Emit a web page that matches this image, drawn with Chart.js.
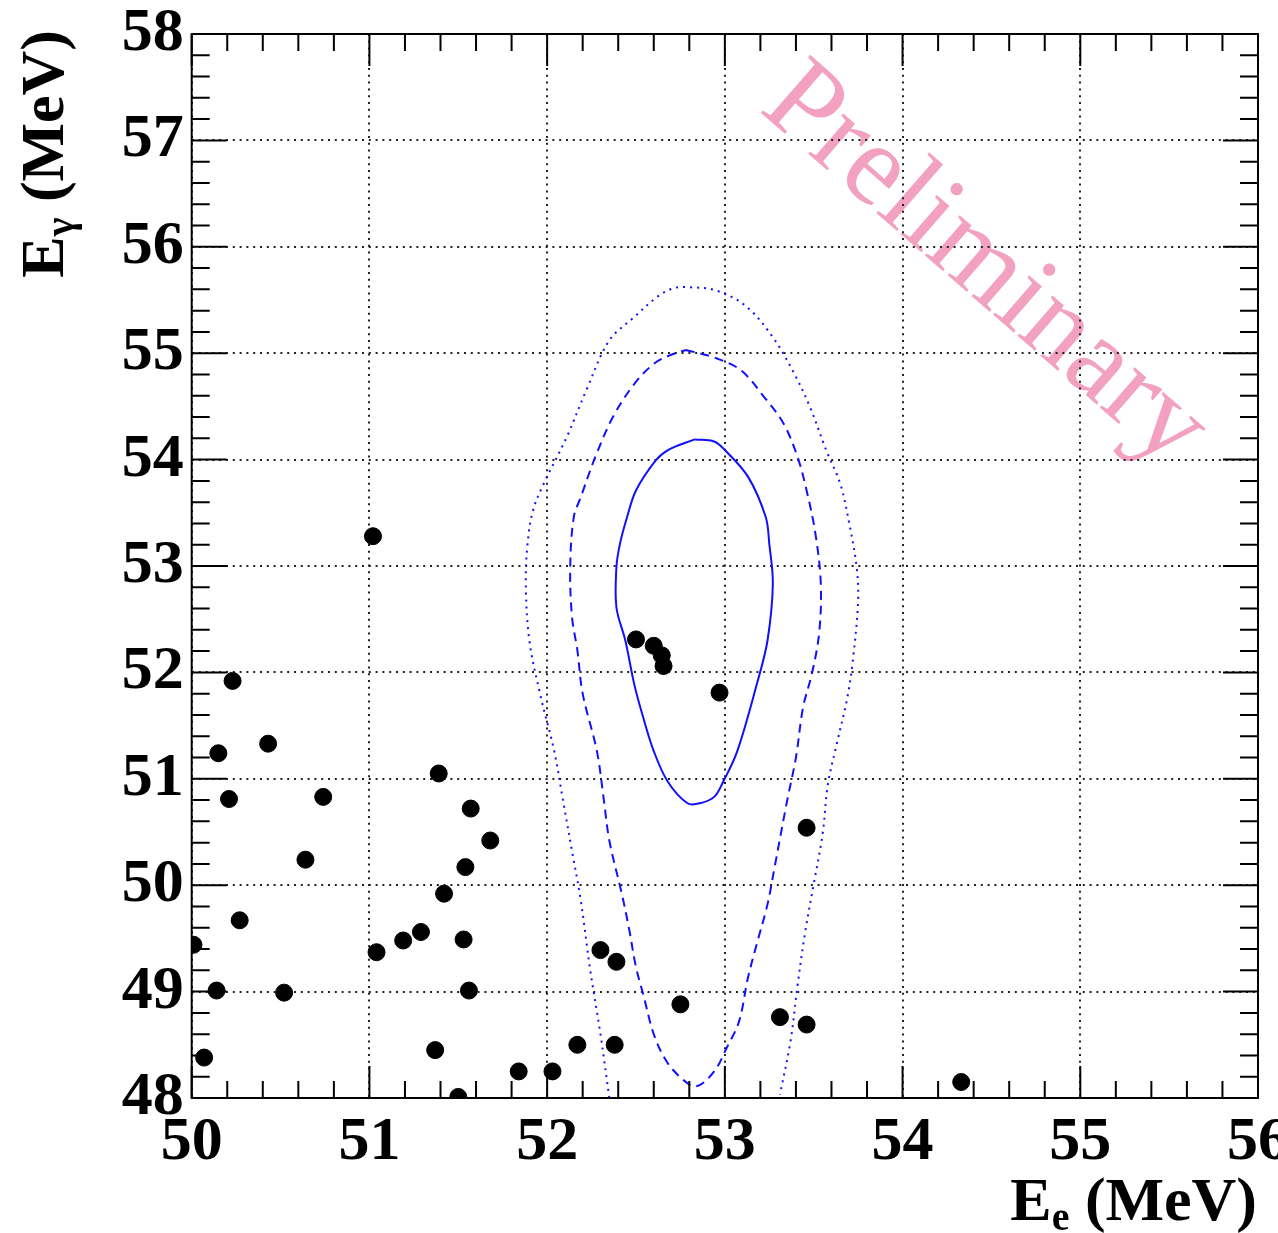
<!DOCTYPE html>
<html>
<head>
<meta charset="utf-8">
<script src="https://cdn.jsdelivr.net/npm/chart.js@4.4.1/dist/chart.umd.min.js"></script>
<style>
  html, body { margin: 0; padding: 0; background: #fff; }
  #wrap { width: 1278px; height: 1233px; position: relative; }
</style>
</head>
<body>
<div id="wrap"><canvas id="scan"></canvas></div>
<script>
// selected events: positron energy vs photon energy (MeV)
const eventEe = [50.01, 50.07, 50.14, 50.15, 50.21, 50.23, 50.27, 50.43, 50.52, 50.64,
  50.74, 51.02, 51.04, 51.19, 51.29, 51.37, 51.39, 51.42, 51.50, 51.53,
  51.54, 51.56, 51.57, 51.68, 51.84, 52.03, 52.17, 52.30, 52.38, 52.39,
  52.50, 52.60, 52.645, 52.655, 52.97, 52.75, 53.31, 53.46, 53.46, 54.33];
const eventEg = [49.44, 48.38, 49.01, 51.24, 50.81, 51.92, 49.67, 51.33, 48.99, 50.24,
  50.83, 53.28, 49.37, 49.48, 49.56, 48.45, 51.05, 49.92, 48.01, 49.49,
  50.17, 49.01, 50.72, 50.42, 48.25, 48.25, 48.50, 49.39, 48.50, 49.28,
  52.31, 52.25, 52.16, 52.06, 51.81, 48.88, 48.76, 48.69, 50.54, 48.15];

// signal region contours (1, 1.64, 2 sigma)
const innerEe = [52.83, 52.94, 53.00, 53.13, 53.23, 53.25, 53.27, 53.24, 53.18, 53.07, 52.99, 52.94,
  52.86, 52.79, 52.68, 52.60, 52.54, 52.49, 52.44, 52.39, 52.39, 52.41, 52.45, 52.50, 52.61, 52.68, 52.83];
const innerEg = [54.19, 54.17, 54.09, 53.84, 53.46, 53.21, 52.83, 52.30, 51.89, 51.26, 50.97, 50.83,
  50.77, 50.77, 50.97, 51.26, 51.58, 51.89, 52.30, 52.61, 52.99, 53.21, 53.46, 53.71, 53.99, 54.09, 54.19];

const middleEe = [52.78, 52.94, 53.09, 53.22, 53.33, 53.41, 53.46, 53.51, 53.54, 53.53, 53.49, 53.44,
  53.40, 53.35, 53.28, 53.24, 53.18, 53.13, 53.08, 53.01, 52.94, 52.84, 52.76, 52.67, 52.60, 52.54,
  52.50, 52.46, 52.42, 52.35, 52.32, 52.28, 52.20, 52.17, 52.14, 52.13, 52.15, 52.19, 52.27, 52.37,
  52.49, 52.60, 52.69, 52.78];
const middleEg = [55.03, 54.96, 54.84, 54.59, 54.34, 54.02, 53.71, 53.30, 52.83, 52.36, 51.99, 51.67,
  51.20, 50.79, 50.17, 49.82, 49.45, 49.13, 48.72, 48.47, 48.25, 48.11, 48.18, 48.35, 48.60, 48.98,
  49.23, 49.60, 49.92, 50.42, 50.79, 51.26, 51.80, 52.21, 52.52, 52.99, 53.46, 53.65, 54.02, 54.40,
  54.71, 54.90, 54.98, 55.03];

const outerEe = [52.35, 52.30, 52.24, 52.19, 52.14, 52.09, 52.04, 51.96, 51.90, 51.88, 51.89, 51.92,
  51.98, 52.11, 52.22, 52.35, 52.49, 52.62, 52.71, 52.79, 52.95, 53.12, 53.27, 53.39, 53.48, 53.57,
  53.65, 53.70, 53.74, 53.75, 53.72, 53.69, 53.63, 53.58, 53.55, 53.50, 53.45, 53.41, 53.37, 53.31];
const outerEg = [48.00, 48.60, 49.23, 49.85, 50.32, 50.79, 51.26, 51.80, 52.30, 52.83, 53.21, 53.52,
  53.77, 54.21, 54.65, 55.12, 55.34, 55.53, 55.61, 55.62, 55.59, 55.44, 55.15, 54.81, 54.49, 54.09,
  53.77, 53.40, 53.01, 52.68, 52.11, 51.77, 51.33, 50.95, 50.48, 50.01, 49.54, 49.07, 48.54, 48.03];

const eeRange = [50, 56];
const egRange = [48, 58];

const toPoints = (xs, ys) => xs.map((v, i) => ({ x: v, y: ys[i] }));

const serif = '"Liberation Serif", "Times New Roman", serif';
const contourBlue = '#1010ff';

// E (sub) (MeV) style label, right-aligned at (x, y)
function subLabel(ctx, x, y, main, sub, rest) {
  const big = 'bold 62px ' + serif, small = 'bold 40px ' + serif;
  ctx.font = big;
  const w1 = ctx.measureText(main).width, w3 = ctx.measureText(rest).width;
  ctx.font = small;
  const w2 = ctx.measureText(sub).width;
  let cx = x - (w1 + w2 + w3);
  ctx.textAlign = 'left';
  ctx.textBaseline = 'alphabetic';
  ctx.font = big; ctx.fillText(main, cx, y); cx += w1;
  ctx.font = small; ctx.fillText(sub, cx, y + 10); cx += w2;
  ctx.font = big; ctx.fillText(rest, cx, y);
}

const frame = {
  id: 'frame',
  beforeDraw(chart) {
    const { ctx, chartArea: a } = chart;
    ctx.save();
    ctx.translate(a.left + 566, a.top + 76);
    ctx.rotate(41 * Math.PI / 180);
    ctx.font = '116px ' + serif;
    ctx.fillStyle = '#f2a2c0';
    ctx.textBaseline = 'alphabetic';
    ctx.fillText('Preliminary', 0, 0);
    ctx.restore();
  },
  afterDraw(chart) {
    const { ctx, chartArea: a, scales: { x, y } } = chart;
    ctx.save();
    ctx.strokeStyle = '#000';
    ctx.lineWidth = 2;
    ctx.strokeRect(a.left, a.top, a.right - a.left, a.bottom - a.top);

    // inward ticks on all four sides, minor every 0.2
    ctx.beginPath();
    for (let i = 0; i <= 30; i++) {
      const px = x.getPixelForValue(eeRange[0] + i * 0.2);
      const len = i % 5 === 0 ? 32 : 17;
      ctx.moveTo(px, a.bottom); ctx.lineTo(px, a.bottom - len);
      ctx.moveTo(px, a.top); ctx.lineTo(px, a.top + len);
    }
    for (let i = 0; i <= 50; i++) {
      const py = y.getPixelForValue(egRange[0] + i * 0.2);
      const len = i % 5 === 0 ? 35 : 18;
      ctx.moveTo(a.left, py); ctx.lineTo(a.left + len, py);
      ctx.moveTo(a.right, py); ctx.lineTo(a.right - len, py);
    }
    ctx.stroke();

    ctx.fillStyle = '#000';
    subLabel(ctx, a.right - 1, 1220, 'E', 'e', ' (MeV)');
    ctx.translate(63, a.top - 4);
    ctx.rotate(-Math.PI / 2);
    subLabel(ctx, 0, 0, 'E', '\u03b3', ' (MeV)');
    ctx.restore();
  }
};

const contour = (xs, ys, dash) => ({
  data: toPoints(xs, ys),
  showLine: true,
  tension: 0.35,
  pointRadius: 0,
  borderColor: contourBlue,
  borderWidth: 2,
  borderDash: dash,
  order: 1
});

new Chart(document.getElementById('scan'), {
  type: 'scatter',
  data: {
    datasets: [
      {
        label: 'events',
        data: toPoints(eventEe, eventEg),
        backgroundColor: '#000',
        borderColor: '#000',
        borderWidth: 1,
        pointRadius: 8.5,
        order: 0
      },
      { label: '1 sigma', ...contour(innerEe, innerEg, []) },
      { label: '1.64 sigma', ...contour(middleEe, middleEg, [9, 6]) },
      { label: '2 sigma', ...contour(outerEe, outerEg, [2, 5]) }
    ]
  },
  options: {
    responsive: true,
    maintainAspectRatio: false,
    animation: false,
    events: [],
    layout: { padding: { left: 0, top: 34, right: 20, bottom: 0 } },
    plugins: {
      legend: { display: false },
      tooltip: { enabled: false }
    },
    scales: {
      x: {
        type: 'linear',
        min: eeRange[0],
        max: eeRange[1],
        ticks: {
          stepSize: 1,
          padding: 8,
          color: '#000',
          maxRotation: 0,
          font: { family: serif, size: 62, weight: 'bold' }
        },
        grid: { color: '#222', lineWidth: 2, drawTicks: false },
        border: { display: false, dash: [2, 4.8] },
        afterFit(scale) {
          scale.height = 135;
          scale.paddingLeft = 0;
          scale.paddingRight = 0;
        }
      },
      y: {
        type: 'linear',
        min: egRange[0],
        max: egRange[1],
        ticks: {
          stepSize: 1,
          padding: 8,
          color: '#000',
          font: { family: serif, size: 62, weight: 'bold' }
        },
        grid: { color: '#222', lineWidth: 2, drawTicks: false },
        border: { display: false, dash: [2, 4.8] },
        afterFit(scale) {
          scale.width = 191.7;
          scale.paddingTop = 0;
          scale.paddingBottom = 0;
        }
      }
    }
  },
  plugins: [frame]
});
</script>
</body>
</html>
